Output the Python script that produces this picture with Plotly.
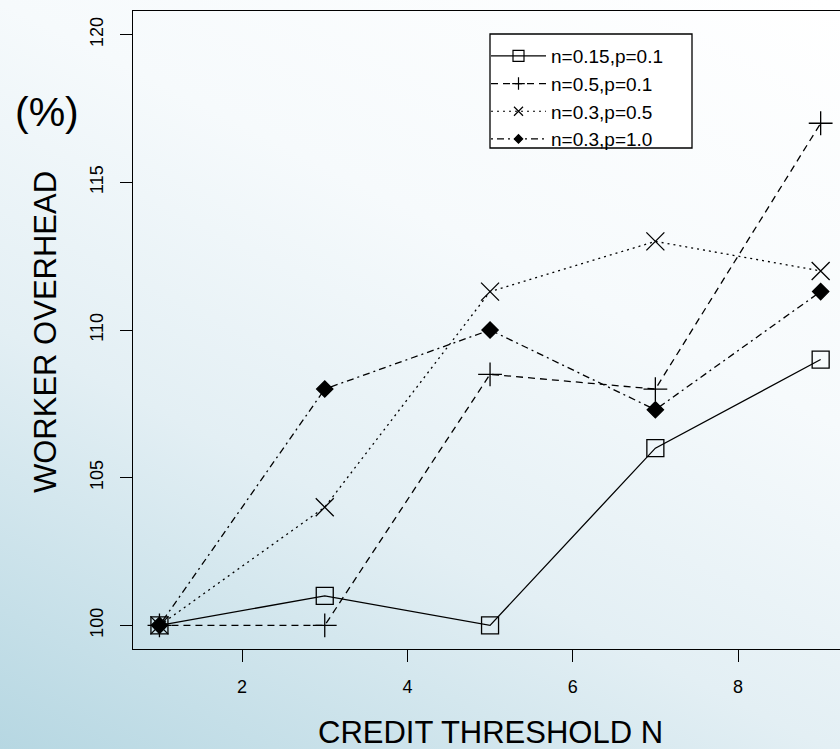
import base64
import plotly.graph_objects as go

# ---- data ----
credit_threshold = [1, 3, 5, 7, 9]
series_names = ["n=0.15,p=0.1", "n=0.5,p=0.1", "n=0.3,p=0.5", "n=0.3,p=1.0"]
s1 = [100, 101, 100, 106, 109]
s2 = [100, 100, 108.5, 108, 117]
s3 = [100, 104, 111.3, 113, 112]
s4 = [100, 108, 110, 107.3, 111.3]
x_ticks = [2, 4, 6, 8]
y_ticks = [100, 105, 110, 115, 120]

W, H = 840, 749
L, R, T, B = 133, 0, 11, 100
PW, PH = W - L - R, H - T - B

styles = [
    dict(dash="solid", symbol="square-open", size=17, lsize=11),
    dict(dash="7px,5px", symbol="cross-thin-open", size=17, lsize=9),
    dict(dash="2px,4px", symbol="x-thin-open", size=18, lsize=9),
    dict(dash="2px,4px,7px,4px", symbol="diamond", size=12.5, lsize=6.5),
]

fig = go.Figure()
for name, ys, st in zip(series_names, [s1, s2, s3, s4], styles):
    fig.add_trace(go.Scatter(
        x=credit_threshold, y=ys, mode="lines+markers", name=name, showlegend=False,
        line=dict(color="black", width=1.3, dash=st["dash"]),
        marker=dict(symbol=st["symbol"], size=st["size"], color="black",
                    line=dict(color="black", width=1.3)),
    ))
for name, st in zip(series_names, styles):
    fig.add_trace(go.Scatter(
        x=[None], y=[None], mode="lines+markers", name=name, showlegend=True,
        line=dict(color="black", width=1.2, dash=st["dash"]),
        marker=dict(symbol=st["symbol"], size=st["lsize"], color="black",
                    line=dict(color="black", width=1.2)),
    ))

svg = f'''<svg xmlns="http://www.w3.org/2000/svg" width="{W}" height="{H}" viewBox="0 0 {W} {H}" preserveAspectRatio="none">
<defs><linearGradient id="g" gradientUnits="userSpaceOnUse" x1="0" y1="{H}" x2="470" y2="-181">
<stop offset="0" stop-color="#b6d7e2"/><stop offset="0.36" stop-color="#e3eff4"/>
<stop offset="0.64" stop-color="#f6fafc"/><stop offset="1" stop-color="#ffffff"/>
</linearGradient></defs><rect x="0" y="0" width="{W}" height="{H}" fill="url(#g)"/></svg>'''
src = "data:image/svg+xml;base64," + base64.b64encode(svg.encode()).decode()

def px_x(p):
    return (p - L) / PW

def px_y(p):
    return 1 - (p - T) / PH

font = "Liberation Sans, Arial, Helvetica, sans-serif"

fig.update_layout(
    width=W, height=H,
    margin=dict(l=L, r=R, t=T, b=B, pad=0),
    paper_bgcolor="white", plot_bgcolor="rgba(0,0,0,0)",
    font=dict(family=font, color="black"),
    images=[dict(source=src, xref="paper", yref="paper", x=px_x(0), y=px_y(0),
                 sizex=W / PW, sizey=H / PH, xanchor="left", yanchor="top",
                 sizing="stretch", layer="below")],
    xaxis=dict(range=[0.68, 9.234], tickvals=x_ticks, ticks="outside", ticklen=12,
               tickcolor="black", tickwidth=1, showline=True, linecolor="black",
               linewidth=1.3, mirror=True, showgrid=False, zeroline=False,
               tickfont=dict(size=18, family=font), ticklabelstandoff=9),
    yaxis=dict(range=[99.2, 120.8], tickvals=y_ticks, ticks="outside", ticklen=12,
               tickcolor="black", tickwidth=1, showline=True, linecolor="black",
               linewidth=1.3, showgrid=False, zeroline=False, tickangle=-90,
               tickfont=dict(size=18, family=font), ticklabelstandoff=10),
    showlegend=True,
    legend=dict(x=px_x(486), y=px_y(37), xanchor="left", yanchor="top",
                bgcolor="rgba(0,0,0,0)", borderwidth=0,
                font=dict(size=19, family=font), itemwidth=55,
                tracegroupgap=0),
    shapes=[dict(type="rect", xref="paper", yref="paper",
                 x0=px_x(490), x1=px_x(692), y0=px_y(148), y1=px_y(34),
                 line=dict(color="black", width=1.3), fillcolor="white", layer="below")],
    annotations=[
        dict(text="CREDIT THRESHOLD N", xref="paper", yref="paper", x=px_x(490),
             y=px_y(732), xanchor="center", yanchor="middle", showarrow=False,
             font=dict(size=31, family=font)),
        dict(text="WORKER OVERHEAD", xref="paper", yref="paper", x=px_x(45),
             y=px_y(332), xanchor="center", yanchor="middle", showarrow=False,
             textangle=-90, font=dict(size=31, family=font)),
        dict(text="(%)", xref="paper", yref="paper", x=px_x(47),
             y=px_y(112), xanchor="center", yanchor="middle", showarrow=False,
             font=dict(size=41, family=font)),
    ],
)

fig.write_html("out.html", config={"displayModeBar": False},
               post_script="document.body.style.margin='0';")
